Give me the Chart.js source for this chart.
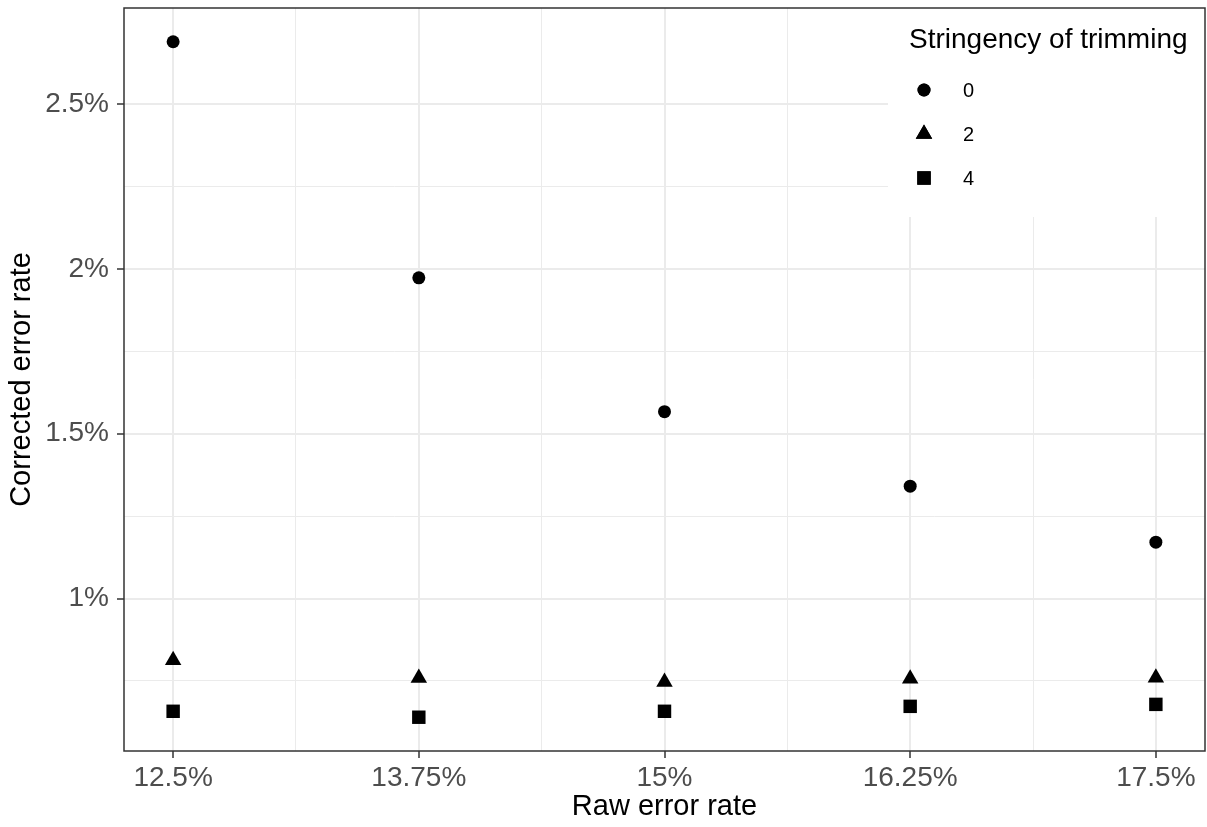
<!DOCTYPE html>
<html>
<head>
<meta charset="utf-8">
<script src="https://cdn.jsdelivr.net/npm/chart.js@4.4.1/dist/chart.umd.min.js"></script>
<style>
  html, body { margin: 0; padding: 0; background: #ffffff; }
  #wrap { width: 1207px; height: 827px; }
</style>
</head>
<body>
<div id="wrap"><canvas id="c" width="1207" height="827"></canvas></div>
<script>
// ---- data ----
const rawErrorRate = [12.5, 13.75, 15, 16.25, 17.5];
const stringencyLevels = ['0', '2', '4'];
const corrected0 = [2.689, 1.973, 1.567, 1.341, 1.171];
const corrected2 = [0.813, 0.759, 0.747, 0.757, 0.760];
const corrected4 = [0.658, 0.640, 0.658, 0.673, 0.679];

const xMajorTicks = [12.5, 13.75, 15, 16.25, 17.5];
const xMinorTicks = [13.125, 14.375, 15.625, 16.875];
const xTickLabels = ['12.5%', '13.75%', '15%', '16.25%', '17.5%'];
const yMajorTicks = [1, 1.5, 2, 2.5];
const yMinorTicks = [0.75, 1.25, 1.75, 2.25];
const yTickLabels = ['1%', '1.5%', '2%', '2.5%'];

const xTitle = 'Raw error rate';
const yTitle = 'Corrected error rate';
const legendTitle = 'Stringency of trimming';
const pointStyles = ['circle', 'triangle', 'rect'];
const pointRadii = [6.5, 9.5, 9.5];

// ---- ggplot-like 5% expansion ----
function expand(vals) {
  const lo = Math.min(...vals), hi = Math.max(...vals), r = hi - lo;
  return [lo - 0.05 * r, hi + 0.05 * r];
}
const [xMin, xMax] = expand(rawErrorRate);
const [yMin, yMax] = expand([...corrected0, ...corrected2, ...corrected4]);

const FONT = '"Liberation Sans", Arial, Helvetica, sans-serif';
const GRID = '#ebebeb';
const DARK = '#333333';

function toPoints(ys) { return rawErrorRate.map((x, i) => ({ x: x, y: ys[i] })); }
const seriesValues = [corrected0, corrected2, corrected4];

const datasets = stringencyLevels.map((lvl, i) => ({
  label: lvl,
  data: toPoints(seriesValues[i]),
  pointStyle: pointStyles[i],
  pointRadius: pointRadii[i],
  pointHoverRadius: pointRadii[i],
  backgroundColor: '#000000',
  borderColor: '#000000',
  borderWidth: 0,
  showLine: false
}));

function isIn(arr, v) { return arr.some(a => Math.abs(a - v) < 1e-9); }

const ggLegend = {
  id: 'ggLegend',
  beforeDatasetsDraw(chart) {
    const { ctx, chartArea } = chart;
    const boxLeft = 888, boxBottom = 217;
    ctx.save();
    ctx.fillStyle = '#ffffff';
    ctx.fillRect(boxLeft, chartArea.top, chartArea.right - boxLeft, boxBottom - chartArea.top);
    ctx.fillStyle = '#000000';
    ctx.textBaseline = 'middle';
    ctx.textAlign = 'left';
    ctx.font = '28px ' + FONT;
    ctx.fillText(legendTitle, 909, 40);
    ctx.font = '20px ' + FONT;
    stringencyLevels.forEach((lvl, i) => {
      const y = 90 + i * 44;
      Chart.helpers.drawPoint(ctx, { pointStyle: pointStyles[i], radius: pointRadii[i], rotation: 0, borderWidth: 0 }, 924, y);
      ctx.fill();
      ctx.fillText(lvl, 963, y + 1);
    });
    ctx.restore();
  },
  afterDraw(chart) {
    const { ctx, chartArea } = chart;
    ctx.save();
    ctx.strokeStyle = DARK;
    ctx.lineWidth = 1.5;
    ctx.strokeRect(chartArea.left, chartArea.top, chartArea.right - chartArea.left, chartArea.bottom - chartArea.top);
    ctx.restore();
  }
};

new Chart(document.getElementById('c'), {
  type: 'scatter',
  data: { datasets: datasets },
  plugins: [ggLegend],
  options: {
    responsive: false,
    animation: false,
    devicePixelRatio: 1,
    layout: { autoPadding: false, padding: { left: 0, right: 2, top: 8, bottom: 0 } },
    plugins: { legend: { display: false }, tooltip: { enabled: false } },
    scales: {
      x: {
        type: 'linear',
        min: xMin,
        max: xMax,
        afterBuildTicks: s => { s.ticks = [...xMajorTicks, ...xMinorTicks].sort((a, b) => a - b).map(v => ({ value: v })); },
        afterFit: s => { s.height = 76; s.paddingLeft = 0; s.paddingRight = 0; s.paddingTop = 0; s.paddingBottom = 0; },
        ticks: {
          autoSkip: false, maxRotation: 0, padding: 3,
          color: '#4d4d4d', font: { family: FONT, size: 28 },
          callback: v => { const k = xMajorTicks.findIndex(a => Math.abs(a - v) < 1e-9); return k >= 0 ? xTickLabels[k] : ''; }
        },
        grid: {
          color: GRID,
          lineWidth: c => (c.tick && isIn(xMajorTicks, c.tick.value)) ? 2 : 1,
          tickColor: c => (c.tick && isIn(xMajorTicks, c.tick.value)) ? DARK : 'rgba(0,0,0,0)',
          tickLength: 7, tickWidth: 1.5
        },
        border: { display: false },
        title: { display: true, text: xTitle, color: '#000000', font: { family: FONT, size: 29 }, padding: { top: 0, bottom: 3 } }
      },
      y: {
        type: 'linear',
        min: yMin,
        max: yMax,
        afterBuildTicks: s => { s.ticks = [...yMajorTicks, ...yMinorTicks].sort((a, b) => a - b).map(v => ({ value: v })); },
        afterFit: s => { s.width = 124; s.paddingLeft = 0; s.paddingRight = 0; s.paddingTop = 0; s.paddingBottom = 0; },
        ticks: {
          autoSkip: false, padding: 8,
          color: '#4d4d4d', font: { family: FONT, size: 28 },
          callback: v => { const k = yMajorTicks.findIndex(a => Math.abs(a - v) < 1e-9); return k >= 0 ? yTickLabels[k] : ''; }
        },
        grid: {
          color: GRID,
          lineWidth: c => (c.tick && isIn(yMajorTicks, c.tick.value)) ? 2 : 1,
          tickColor: c => (c.tick && isIn(yMajorTicks, c.tick.value)) ? DARK : 'rgba(0,0,0,0)',
          tickLength: 7, tickWidth: 1.5
        },
        border: { display: false },
        title: { display: true, text: yTitle, color: '#000000', font: { family: FONT, size: 29 }, padding: { top: 5, bottom: 0 } }
      }
    }
  }
});
</script>
</body>
</html>
